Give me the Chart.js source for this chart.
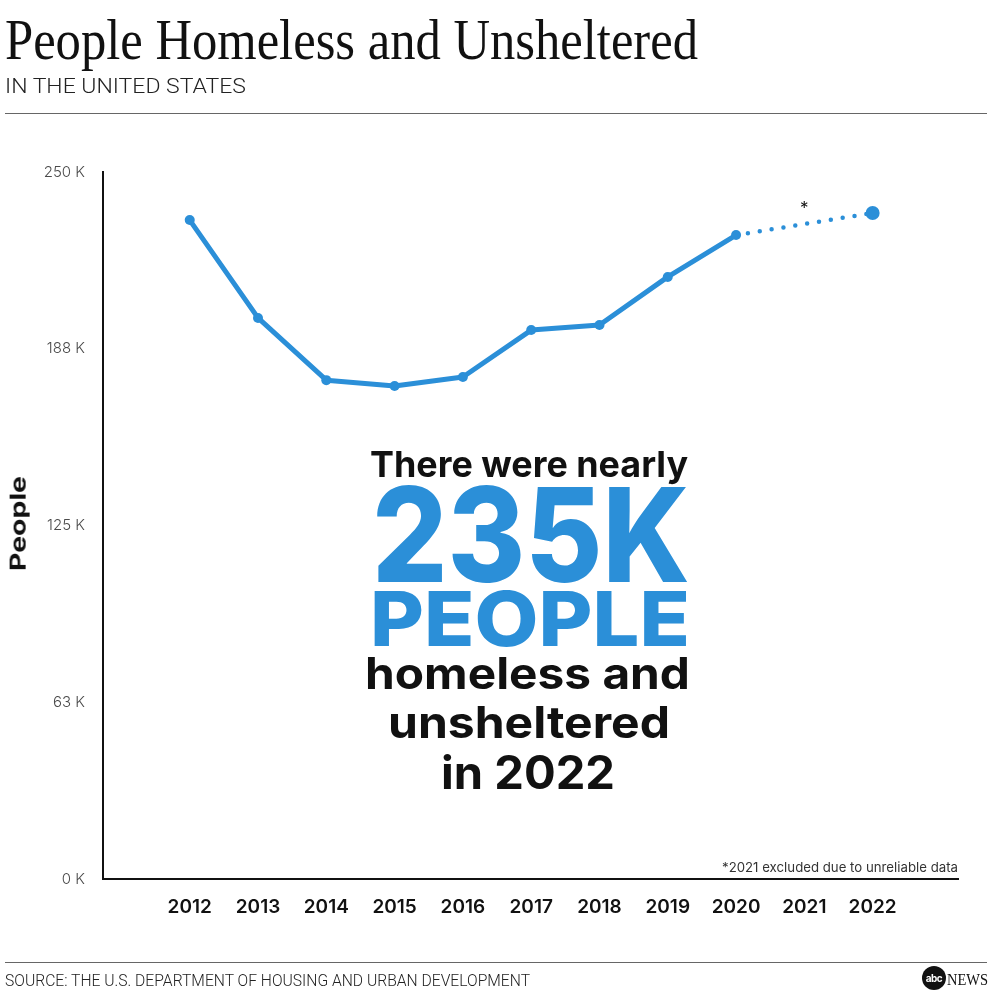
<!DOCTYPE html>
<html>
<head>
<meta charset="utf-8">
<script src="https://cdn.jsdelivr.net/npm/chart.js@4.4.1/dist/chart.umd.min.js"></script>
<style>
  body { margin: 0; background: #fff; }
  #page { position: relative; width: 992px; height: 992px; overflow: hidden; background: #fff; }
  #page canvas { position: absolute; left: 0; top: 0; }
  .txt { position: absolute; white-space: nowrap; line-height: 1; transform-origin: left top; }
  .rule { position: absolute; left: 5px; width: 982px; height: 1px; background: #666; }
  .big { font-family: Inter, sans-serif; color: #111; }
  .blue { color: #2b8fd8; }
</style>
</head>
<body>
<div id="page">
  <canvas id="chart" width="992" height="992"></canvas>

  <div class="txt" data-w="693" style="left:5px; top:8px; font:56px 'Liberation Serif', serif; color:#111;">People Homeless and Unsheltered</div>
  <div class="txt" data-w="241" style="left:5px; top:74px; font:300 21px Roboto, sans-serif; color:#222;">IN THE UNITED STATES</div>
  <div class="rule" style="top:113px;"></div>

  <div class="txt big" data-w="318" style="left:370px; top:446px; font-size:36px; font-weight:700;">There were nearly</div>
  <div class="txt big blue" data-w="318" style="left:372px; top:469px; font-size:131px; font-weight:800;">235K</div>
  <div class="txt big blue" data-w="320" style="left:370px; top:580px; font-size:76px; font-weight:800;">PEOPLE</div>
  <div class="txt big" data-w="325" style="left:365px; top:651px; font-size:44px; font-weight:700;">homeless and</div>
  <div class="txt big" data-w="282" style="left:388px; top:700px; font-size:44px; font-weight:700;">unsheltered</div>
  <div class="txt big" data-w="174" style="left:441px; top:749px; font-size:46px; font-weight:700;">in 2022</div>

  <div class="txt" data-w="236" style="left:722px; top:859px; font:13px Inter, sans-serif; color:#333;">*2021 excluded due to unreliable data</div>

  <div class="txt" id="ytitle" style="font:700 21px Inter, sans-serif; color:#111; transform-origin:center center;">People</div>

  <div class="rule" style="top:962px;"></div>
  <div class="txt" data-w="525" style="left:5px; top:971px; font:300 16px Roboto, sans-serif; color:#222;">SOURCE: THE U.S. DEPARTMENT OF HOUSING AND URBAN DEVELOPMENT</div>
  <div style="position:absolute; left:922px; top:966px; width:24px; height:24px; border-radius:50%; background:#111; color:#fff; font:700 10px Inter, sans-serif; line-height:24px; text-align:center; letter-spacing:-0.5px;">abc</div>
  <div class="txt" data-w="41" style="left:947px; top:970px; font:17px 'Liberation Serif', serif; color:#111;">NEWS</div>
</div>

<script>
const years = [2012, 2013, 2014, 2015, 2016, 2017, 2018, 2019, 2020, 2021, 2022];
// people homeless and unsheltered, thousands (2021 excluded)
const people = [233.0, 198.4, 176.4, 174.3, 177.5, 194.1, 195.9, 212.9, 227.7, null, 235.5];
const yTicks = [0, 62.5, 125, 187.5, 250];

const blue = '#2b8fd8';
// the 2020 -> 2022 stretch spans the missing 2021 value
const isGap = c => c.p0.skip || c.p1.skip;

const asterisk = {
  id: 'asterisk',
  afterDatasetsDraw(chart) {
    const { ctx, scales } = chart;
    const i = years.indexOf(2021);
    const x = scales.x.getPixelForValue(2021);
    const y = scales.y.getPixelForValue((people[i - 1] + people[i + 1]) / 2) - 15;
    ctx.save();
    ctx.font = '17px Inter, sans-serif';
    ctx.fillStyle = '#111';
    ctx.textAlign = 'center';
    ctx.textBaseline = 'middle';
    ctx.fillText('*', x, y);
    ctx.restore();
  }
};

new Chart(document.getElementById('chart'), {
  type: 'line',
  data: {
    datasets: [{
      label: 'People',
      data: years.map((yr, i) => ({ x: yr, y: people[i] })),
      borderColor: blue,
      backgroundColor: blue,
      borderWidth: 5,
      borderCapStyle: 'round',
      borderJoinStyle: 'round',
      pointRadius: c => (c.dataIndex === years.length - 1 ? 7 : 5),
      pointHoverRadius: c => (c.dataIndex === years.length - 1 ? 7 : 5),
      pointBackgroundColor: blue,
      pointBorderWidth: 0,
      spanGaps: true,
      tension: 0,
      segment: {
        borderDash: c => (isGap(c) ? [0, 12] : undefined),
        borderWidth: c => (isGap(c) ? 4.5 : undefined)
      }
    }]
  },
  options: {
    responsive: false,
    animation: false,
    layout: { padding: { top: 172, right: 34, left: 0, bottom: 0 } },
    plugins: { legend: { display: false }, tooltip: { enabled: false } },
    scales: {
      x: {
        type: 'linear',
        min: 2010.73,
        max: 2023.25,
        grid: { display: false, drawTicks: false },
        border: { display: true, color: '#111', width: 2 },
        afterBuildTicks: s => { s.ticks = years.map(v => ({ value: v })); },
        afterFit: s => { s.height = 113; },
        ticks: {
          callback: v => String(v),
          color: '#111',
          padding: 17,
          maxRotation: 0,
          font: { family: 'Inter', size: 19, weight: '600' }
        }
      },
      y: {
        min: 0,
        max: 250,
        grid: { display: false, drawTicks: false },
        border: { display: true, color: '#111', width: 2 },
        afterBuildTicks: s => { s.ticks = yTicks.map(v => ({ value: v })); },
        afterFit: s => { s.width = 103; },
        ticks: {
          callback: v => Math.round(v) + ' K',
          color: '#4a4a4a',
          padding: 18,
          font: { family: 'Inter', size: 15, weight: '300' }
        }
      }
    }
  },
  plugins: [asterisk]
});

function fitText() {
  document.querySelectorAll('.txt[data-w]').forEach(el => {
    el.style.transform = 'none';
    const w = el.getBoundingClientRect().width;
    el.style.transform = 'scaleX(' + (+el.dataset.w / w) + ')';
  });
  const t = document.getElementById('ytitle');
  t.style.transform = 'none';
  const r = t.getBoundingClientRect();
  t.style.left = (18 - r.width / 2) + 'px';
  t.style.top = (523 - r.height / 2) + 'px';
  t.style.transform = 'rotate(-90deg) scaleX(' + (95 / r.width) + ')';
}
fitText();
document.fonts.ready.then(fitText);
</script>
</body>
</html>
